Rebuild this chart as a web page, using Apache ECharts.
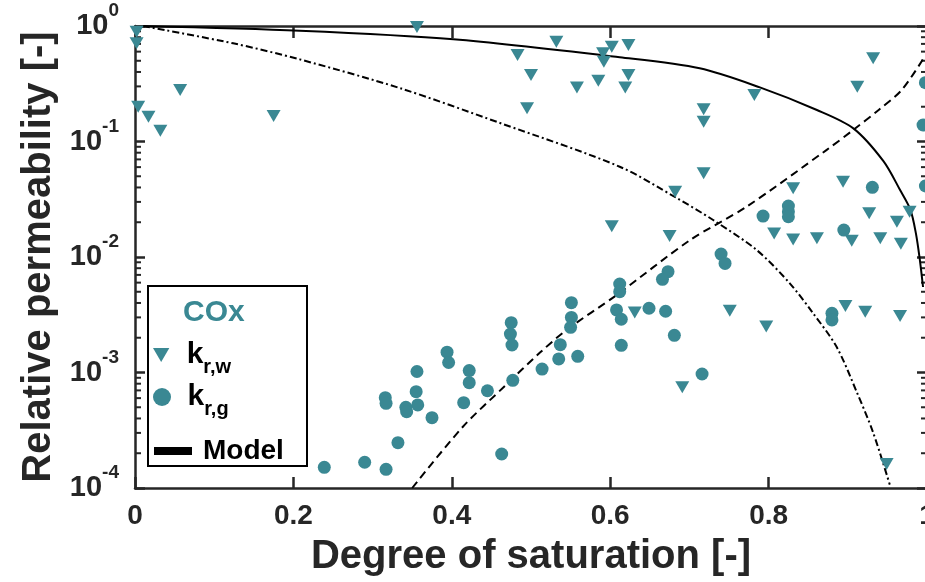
<!DOCTYPE html>
<html>
<head>
<meta charset="utf-8">
<script src="https://cdn.jsdelivr.net/npm/echarts@6/dist/echarts.min.js"></script>
<style>
html,body{margin:0;padding:0;background:#fff;}
#chart{width:925px;height:582px;}
</style>
</head>
<body>
<div id="chart"></div>
<script>
// ---- data ----
const krwS = [0.002,0.002,0.057,0.004,0.017,0.032,0.175,0.356,0.532,0.483,0.602,0.591,0.592,0.500,0.558,0.585,0.495,0.623,0.623,0.619,0.782,0.718,0.718,0.932,0.912,0.718,0.682,0.831,0.894,0.602,0.675,0.927,0.978,0.962,0.807,0.831,0.861,0.905,0.941,0.967,0.631,0.751,0.797,0.897,0.922,0.966,0.691,0.949];
const krwV = [0.893,0.708,0.279,0.200,0.164,0.124,0.166,0.98,0.731,0.561,0.662,0.580,0.491,0.377,0.294,0.336,0.194,0.684,0.377,0.294,0.253,0.190,0.148,0.525,0.298,0.0531,0.0367,0.0394,0.0449,0.0185,0.0152,0.0239,0.0247,0.0202,0.0160,0.0142,0.0145,0.0138,0.0145,0.0130,0.00330,0.00343,0.00250,0.00377,0.00336,0.00308,0.000745,0.000161];

const krgS = [0.998,0.995,0.998,0.931,0.793,0.825,0.825,0.825,0.895,0.740,0.745,0.880,0.880,0.673,0.666,0.612,0.612,0.608,0.614,0.649,0.670,0.681,0.614,0.551,0.551,0.550,0.537,0.535,0.559,0.475,0.474,0.476,0.394,0.396,0.514,0.477,0.463,0.716,0.422,0.422,0.445,0.356,0.355,0.357,0.316,0.317,0.342,0.343,0.375,0.415,0.332,0.290,0.239,0.317];
const krgV = [0.323,0.139,0.0412,0.0401,0.0226,0.0276,0.0247,0.0223,0.0171,0.0106,0.0088,0.00326,0.00285,0.00746,0.00641,0.00583,0.00501,0.00348,0.00289,0.0036,0.00339,0.0021,0.00172,0.00402,0.0030,0.00246,0.00174,0.00131,0.00138,0.0027,0.00215,0.00173,0.0015,0.00122,0.00107,0.000855,0.000197,0.00097,0.00104,0.000817,0.000695,0.00102,0.000682,0.000524,0.000605,0.000541,0.0005,0.000458,0.000406,0.000548,0.000247,0.000167,0.000151,0.000145];

const modelSolidS = [0.01,0.208,0.402,0.612,0.713,0.789,0.861,0.907,0.945,0.966,0.979,0.986,0.991,0.995];
const modelSolidV = [1.0,0.91,0.767,0.536,0.43,0.294,0.1875,0.130,0.0676,0.038,0.0257,0.016,0.0094,0.0055];

const modelDashDotS = [0.01,0.124,0.208,0.335,0.461,0.612,0.684,0.730,0.785,0.827,0.856,0.886,0.912,0.932,0.953];
const modelDashDotV = [1.0,0.708,0.514,0.289,0.1445,0.0605,0.0324,0.0209,0.01148,0.00589,0.00327,0.00166,0.00066,0.000302,0.000107];

const modelDashS = [0.350,0.414,0.467,0.511,0.545,0.608,0.701,0.772,0.873,0.907,0.939,0.968,0.997];
const modelDashV = [0.0001,0.000339,0.000764,0.00148,0.00234,0.00468,0.01403,0.0272,0.0843,0.126,0.1875,0.279,0.542];

const xTicks = [0,0.2,0.4,0.6,0.8,1];
const yDecades = [-4,-3,-2,-1,0];
const minorMantissas = [2,3,4,5,6,7,8,9];

// ---- styling ----
const FONT = 'Liberation Sans, Arial, sans-serif';
const TEAL = '#3a8893';
const AX = '#262626';
const triPath = 'path://M0,0L14,0L7,12Z';

const zip = (a,b) => a.map((v,i)=>[v,b[i]]);
const minorVals = [];
yDecades.slice(0,-1).forEach(d => minorMantissas.forEach(m => minorVals.push([0, m*Math.pow(10,d)])));

const chart = echarts.init(document.getElementById('chart'), null, {renderer:'canvas'});

const axisLineStyle = {color: AX, width: 2.5};

const option = {
  animation: false,
  backgroundColor: '#fff',
  grid: {left: 135, top: 26, width: 792, height: 462, containLabel: false, outerBoundsMode: 'none'},
  xAxis: [
    {
      type: 'value', position: 'bottom', min: 0, max: 1, interval: 0.2,
      axisLine: {show: true, onZero: false, lineStyle: axisLineStyle},
      axisTick: {show: true, inside: true, length: 11, lineStyle: {color: AX, width: 2.5}},
      splitLine: {show: false},
      axisLabel: {color: AX, fontSize: 28, fontWeight: 'bold', fontFamily: FONT, margin: 14,
        formatter: v => String(v)},
      name: 'Degree of saturation [-]', nameLocation: 'middle', nameGap: 49,
      nameTextStyle: {color: AX, fontSize: 40, fontWeight: 'bold', fontFamily: FONT}
    },
    {
      type: 'value', position: 'top', min: 0, max: 1, interval: 0.2,
      axisLine: {show: true, onZero: false, lineStyle: axisLineStyle},
      axisTick: {show: true, inside: true, length: 12, lineStyle: {color: AX, width: 2.5}},
      splitLine: {show: false}, axisLabel: {show: false}
    }
  ],
  yAxis: [
    {
      type: 'log', logBase: 10, position: 'left', min: 1e-4, max: 1,
      axisLine: {show: true, onZero: false, lineStyle: axisLineStyle},
      axisTick: {show: true, inside: true, length: 10, lineStyle: {color: AX, width: 2.5}},
      splitLine: {show: false},
      axisLabel: {
        margin: 16,
        formatter: v => '{b|10}{s|' + Math.round(Math.log10(v)) + '}',
        rich: {
          b: {fontSize: 29, fontWeight: 'bold', color: AX, fontFamily: FONT},
          s: {fontSize: 19, fontWeight: 'bold', color: AX, fontFamily: FONT, lineHeight: 20, padding: [0,0,30,0]}
        }
      },
      name: 'Relative permeability [-]', nameLocation: 'middle', nameGap: 72, nameRotate: 90,
      nameTextStyle: {color: AX, fontSize: 40, fontWeight: 'bold', fontFamily: FONT}
    },
    {
      type: 'log', logBase: 10, position: 'right', min: 1e-4, max: 1,
      axisLine: {show: true, onZero: false, lineStyle: axisLineStyle},
      axisTick: {show: true, inside: true, length: 10, lineStyle: {color: AX, width: 2.5}},
      splitLine: {show: false}, axisLabel: {show: false}
    }
  ],
  legend: [
    {
      data: [{name: 'krw'}], left: 153, top: 333, orient: 'vertical', padding: 0,
      itemWidth: 41, itemHeight: 14, symbolKeepAspect: true, selectedMode: false,
      formatter: () => '{k|k}{s|r,w}',
      textStyle: {rich: {
        k: {fontSize: 30, fontWeight: 'bold', color: '#000', fontFamily: FONT, lineHeight: 30},
        s: {fontSize: 20, fontWeight: 'bold', color: '#000', fontFamily: FONT, lineHeight: 20, padding: [24,0,0,0]}
      }}
    },
    {
      data: [{name: 'krg'}], left: 153, top: 375, orient: 'vertical', padding: 0,
      itemWidth: 41, itemHeight: 18, selectedMode: false,
      formatter: () => '{k|k}{s|r,g}',
      textStyle: {rich: {
        k: {fontSize: 30, fontWeight: 'bold', color: '#000', fontFamily: FONT, lineHeight: 30},
        s: {fontSize: 20, fontWeight: 'bold', color: '#000', fontFamily: FONT, lineHeight: 20, padding: [24,0,0,0]}
      }}
    },
    {
      data: [{name: 'Model', icon: 'rect'}], left: 154, top: 436, orient: 'vertical', padding: 0,
      itemWidth: 38, itemHeight: 8, selectedMode: false,
      itemStyle: {color: '#000'},
      textStyle: {fontSize: 28, fontWeight: 'bold', color: '#000', fontFamily: FONT, lineHeight: 30, padding: [0,0,0,6]}
    }
  ],
  graphic: [
    {type: 'rect', left: 147, top: 285, z: 1, shape: {width: 159, height: 180},
     style: {fill: '#fff', stroke: '#000', lineWidth: 2}},
    {type: 'text', left: 183, top: 298, z: 5,
     style: {text: 'COx', fill: TEAL, font: 'bold 30px ' + FONT}}
  ],
  series: [
    {
      type: 'custom', name: 'minorTicks', silent: true, z: 1, clip: false,
      data: minorVals,
      renderItem: (params, api) => {
        const v = api.value(1);
        const pL = api.coord([0, v]);
        const pR = api.coord([1, v]);
        return {type: 'group', children: [
          {type: 'line', shape: {x1: pL[0], y1: pL[1], x2: pL[0] + 6, y2: pL[1]}, style: {stroke: AX, lineWidth: 2}},
          {type: 'line', shape: {x1: pR[0], y1: pR[1], x2: pR[0] - 6, y2: pR[1]}, style: {stroke: AX, lineWidth: 2}}
        ]};
      }
    },
    {
      type: 'line', name: 'Model', data: zip(modelSolidS, modelSolidV), showSymbol: false, smooth: 0.3,
      color: '#000', lineStyle: {color: '#000', width: 2, type: 'solid'}, z: 3
    },
    {
      type: 'line', name: 'Model', data: zip(modelDashDotS, modelDashDotV), showSymbol: false, smooth: 0.3,
      color: '#000', lineStyle: {color: '#000', width: 2, type: [7,3,2,3]}, z: 3
    },
    {
      type: 'line', name: 'Model', data: zip(modelDashS, modelDashV), showSymbol: false, smooth: 0.3,
      color: '#000', lineStyle: {color: '#000', width: 2, type: [8,5]}, z: 3
    },
    {
      type: 'scatter', name: 'krw', data: zip(krwS, krwV), symbol: triPath, symbolSize: [14, 12],
      itemStyle: {color: TEAL, opacity: 1}, z: 4
    },
    {
      type: 'scatter', name: 'krg', data: zip(krgS, krgV), symbol: 'circle', symbolSize: 13,
      itemStyle: {color: TEAL, opacity: 1}, z: 4
    }
  ]
};
chart.setOption(option);
</script>
</body>
</html>
